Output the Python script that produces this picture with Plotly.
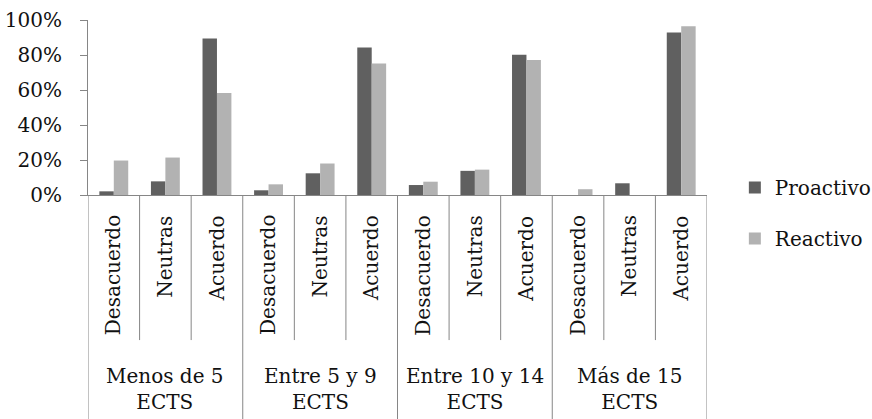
import plotly.graph_objects as go

groups = ["Menos de 5<br>ECTS", "Entre 5 y 9<br>ECTS", "Entre 10 y 14<br>ECTS", "Más de 15<br>ECTS"]
levels = ["Desacuerdo", "Neutras", "Acuerdo"]
series_names = ["Proactivo", "Reactivo"]
proactivo = [0.021, 0.078, 0.895, 0.027, 0.124, 0.843, 0.057, 0.138, 0.801, 0.0, 0.067, 0.929]
reactivo = [0.197, 0.214, 0.583, 0.061, 0.180, 0.752, 0.076, 0.145, 0.771, 0.033, 0.0, 0.964]
y_ticks = [0, 0.2, 0.4, 0.6, 0.8, 1.0]

FONT = "DejaVu Serif"
FS = 20
AX = "#868686"
TXT = "#111111"

n = len(groups) * len(levels)
xs = list(range(n))

fig = go.Figure()
fig.add_trace(go.Bar(x=xs, y=proactivo, name=series_names[0], marker_color="#606060",
                     marker_line_width=0, legendgroup="a"))
fig.add_trace(go.Bar(x=xs, y=reactivo, name=series_names[1], marker_color="#B2B2B2",
                     marker_line_width=0, legendgroup="b"))

annotations = []
shapes = []
for i in range(n):
    annotations.append(dict(x=i, xref="x", y=-0.105, yref="paper", text=levels[i % 3],
                            textangle=-90, showarrow=False, xanchor="center", yanchor="top",
                            font=dict(family=FONT, size=FS, color=TXT)))
for g, name in enumerate(groups):
    annotations.append(dict(x=g * 3 + 1, xref="x", y=-1.109, yref="paper", text=name,
                            showarrow=False, xanchor="center", yanchor="middle",
                            font=dict(family=FONT, size=FS, color=TXT)))
for b in range(n + 1):
    bottom = -1.3 if b % 3 == 0 else -0.829
    shapes.append(dict(type="line", xref="x", yref="paper", x0=b - 0.5, x1=b - 0.5,
                       y0=0, y1=bottom, line=dict(color=AX, width=1)))

fig.update_layout(
    width=872, height=419,
    margin=dict(l=88, r=165, t=20, b=224, autoexpand=False),
    paper_bgcolor="white", plot_bgcolor="white",
    barmode="group", bargap=0.44, bargroupgap=0,
    font=dict(family=FONT, size=FS, color=TXT),
    xaxis=dict(range=[-0.5, n - 0.5], showticklabels=False, showgrid=False, zeroline=False,
               showline=True, linecolor=AX, linewidth=1, ticks="", automargin=False),
    yaxis=dict(range=[0, 1], tickvals=y_ticks, tickformat=".0%", showgrid=False, zeroline=False,
               showline=True, linecolor=AX, linewidth=1, ticks="outside", ticklen=7,
               tickcolor=AX, ticklabelstandoff=14, automargin=False),
    legend=dict(x=1.045, xanchor="left", y=0.154, yanchor="top", tracegroupgap=22,
                traceorder="grouped", font=dict(family=FONT, size=FS, color=TXT)),
    annotations=annotations, shapes=shapes,
)

fig.write_html("out.html")
